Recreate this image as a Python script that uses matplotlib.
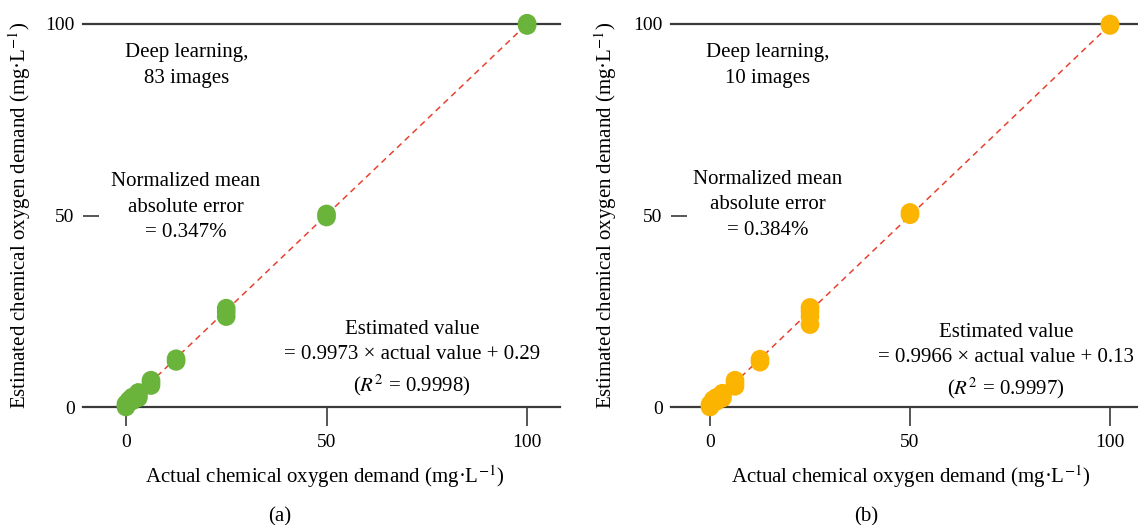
import matplotlib
matplotlib.use("Agg")
import matplotlib.pyplot as plt
import numpy as np

plt.rcParams['font.family'] = ['Liberation Serif', 'DejaVu Serif']
plt.rcParams['mathtext.fontset'] = 'stix'

# actual COD (mg/L) and estimated COD for each panel
actual_a = [0, 0, 0.8, 0.8, 1.6, 1.6, 3.1, 3.1, 3.1, 6.25, 6.25, 6.25, 12.5, 12.5, 25, 25, 25, 50, 50, 100, 100]
est_a = [0.0, 0.8, 1.2, 1.8, 1.6, 2.6, 2.4, 3.2, 3.8, 5.6, 6.4, 7.0, 11.9, 12.6, 23.6, 24.8, 25.8, 49.6, 50.4, 99.6, 100.2]
actual_b = [0, 0, 0.8, 0.8, 1.6, 1.6, 3.1, 3.1, 3.1, 6.25, 6.25, 6.25, 12.5, 12.5, 25, 25, 25, 25, 50, 50, 100, 100]
est_b = [0.0, 0.7, 1.1, 1.9, 1.5, 2.5, 2.3, 3.1, 3.6, 5.4, 6.2, 7.0, 11.7, 12.5, 21.5, 23.6, 25.0, 26.0, 50.2, 50.8, 99.6, 100.0]

fit_a = (0.9973, 0.29)
fit_b = (0.9966, 0.13)
label_a = ["Deep learning,\n83 images", "Normalized mean\nabsolute error\n= 0.347%",
           "Estimated value\n= 0.9973 \u00d7 actual value + 0.29\n($R^2$ = 0.9998)"]
label_b = ["Deep learning,\n10 images", "Normalized mean\nabsolute error\n= 0.384%",
           "Estimated value\n= 0.9966 \u00d7 actual value + 0.13\n($R^2$ = 0.9997)"]

W, H = 1138, 525
fig = plt.figure(figsize=(W / 100, H / 100), dpi=100)

fs = 15
tfs = 14
line_col = '#3a3a3a'


def panel(rect, xlim, xs, ys, fit, labels, color, text_pos):
    ax = fig.add_axes(rect)
    ax.set_xlim(*xlim)
    ax.set_ylim(0, 100)
    for s in ['left', 'right']:
        ax.spines[s].set_visible(False)
    for s in ['top', 'bottom']:
        ax.spines[s].set_color(line_col)
        ax.spines[s].set_linewidth(1.6)
    ax.set_xticks([0, 50, 100])
    ax.set_yticks([0, 50, 100])
    ax.tick_params(axis='x', direction='out', length=13.5, width=1.2, color=line_col,
                   pad=6, labelsize=tfs)
    ax.tick_params(axis='y', direction='in', length=11.5, width=1.2, color=line_col,
                   pad=6, labelsize=tfs)
    xx = np.array([0, 100])
    ax.plot(xx, fit[0] * xx + fit[1], ls=(0, (4, 3)), color='#e8422f', lw=1.1, zorder=2)
    ax.scatter(xs, ys, s=180, color=color, edgecolors='none', zorder=3, clip_on=False)
    for (tx, ty), t in zip(text_pos, labels):
        ax.text(tx, ty, t, ha='center', va='center', fontsize=fs, linespacing=1.45)
    return ax


panel([83 / W, 1 - 407 / H, 477 / W, 383 / H], (-10.7, 108.2), actual_a, est_a, fit_a,
      label_a, '#6ab43c', [(15.2, 89.2), (15.0, 52.2), (71.3, 12.6)])
panel([671 / W, 1 - 407 / H, 467 / W, 383 / H], (-9.75, 107.0), actual_b, est_b, fit_b,
      label_b, '#fbb400', [(14.5, 89.2), (14.5, 52.8), (74.0, 11.8)])

ylab = "Estimated chemical oxygen demand (mg\u00b7L$^{-1}$)"
xlab = "Actual chemical oxygen demand (mg\u00b7L$^{-1}$)"
for x0, yx, xl, sub in [(20, 325, 280, '(a)'), (606, 911, 866, '(b)')]:
    fig.text(x0 / W, 1 - 215 / H, ylab, rotation=90, ha='center', va='center', fontsize=fs)
    fig.text(yx / W, 1 - 477 / H, xlab, ha='center', va='center', fontsize=fs)
    fig.text(xl / W, 1 - 517 / H, sub, ha='center', va='center', fontsize=fs)

fig.savefig('out.png', dpi=100)
